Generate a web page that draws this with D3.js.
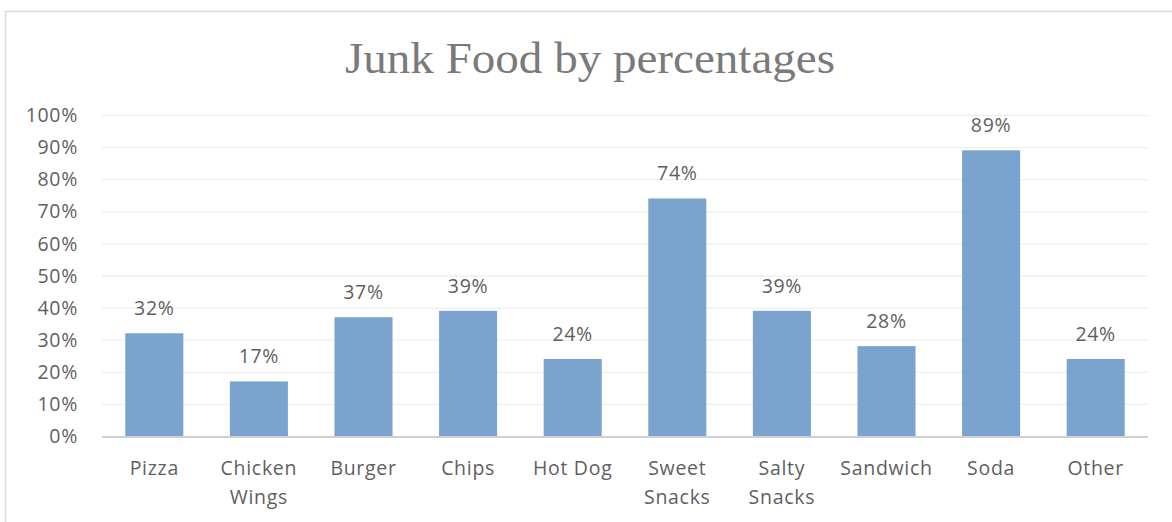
<!DOCTYPE html>
<html>
<head>
<meta charset="utf-8">
<script src="https://cdn.jsdelivr.net/npm/d3@7"></script>
<style>
  html, body { margin: 0; padding: 0; background: #fff; }
  svg { display: block; }
</style>
</head>
<body>
<svg id="chart" width="1172" height="522"></svg>
<script>
const titleText = "Junk Food by percentages";
const categories = [["Pizza"], ["Chicken", "Wings"], ["Burger"], ["Chips"], ["Hot Dog"], ["Sweet", "Snacks"], ["Salty", "Snacks"], ["Sandwich"], ["Soda"], ["Other"]];
const values = [32, 17, 37, 39, 24, 74, 39, 28, 89, 24];
const yTicks = [0, 10, 20, 30, 40, 50, 60, 70, 80, 90, 100];

const svg = d3.select("#chart");
const W = 1172, H = 522;
const plot = { left: 102, right: 1148, top: 115, bottom: 436 };
const FS = 19.5, LS = 0.7;

// outer border (chart area)
svg.append("path")
  .attr("d", `M5.5,${H} L5.5,11.5 L${W},11.5`)
  .attr("fill", "none").attr("stroke", "#d9d9d9").attr("stroke-width", 1.5);

const keys = categories.map(c => c.join(" "));
const x = d3.scaleBand().domain(keys).range([plot.left, plot.right]).paddingInner(0.445).paddingOuter(0.2225);
const y = d3.scaleLinear().domain([0, 100]).range([plot.bottom, plot.top]);

// title
svg.append("text")
  .attr("x", 590).attr("y", 73)
  .attr("text-anchor", "middle")
  .attr("font-family", "'Liberation Serif', serif")
  .attr("font-size", 45)
  .attr("fill", "#7a7a7a")
  .attr("textLength", 490).attr("lengthAdjust", "spacingAndGlyphs")
  .text(titleText);

// gridlines
const yAxis = d3.axisLeft(y).tickValues(yTicks).tickSize(-(plot.right - plot.left)).tickFormat(d => d + "%").tickPadding(24);
const gy = svg.append("g").attr("transform", `translate(${plot.left},0)`).call(yAxis);
gy.select(".domain").remove();
gy.selectAll(".tick line").attr("stroke", "#efefef").attr("stroke-width", 1.3);
gy.selectAll(".tick text")
  .attr("font-family", "'Open Sans', sans-serif")
  .attr("font-size", FS)
  .attr("fill", "#5f5f5f")
  .attr("letter-spacing", LS)
  .attr("x", 78 - plot.left)
  .attr("dy", "0.34em");

// bars
svg.append("g").selectAll("rect").data(values).join("rect")
  .attr("x", (d, i) => x(keys[i]))
  .attr("y", d => y(d))
  .attr("width", x.bandwidth())
  .attr("height", d => y(0) - y(d))
  .attr("fill", "#7ba3d0");

// baseline
svg.append("line")
  .attr("x1", plot.left).attr("x2", plot.right)
  .attr("y1", plot.bottom + 1).attr("y2", plot.bottom + 1)
  .attr("stroke", "#d0d0d0").attr("stroke-width", 2);

// data labels
svg.append("g").selectAll("text").data(values).join("text")
  .attr("x", (d, i) => x(keys[i]) + x.bandwidth() / 2)
  .attr("y", d => y(d) - 18)
  .attr("text-anchor", "middle")
  .attr("font-family", "'Open Sans', sans-serif")
  .attr("font-size", FS)
  .attr("letter-spacing", LS)
  .attr("fill", "#5f5f5f")
  .text(d => d + "%");

// category labels
const cl = svg.append("g").selectAll("text").data(categories).join("text")
  .attr("text-anchor", "middle")
  .attr("font-family", "'Open Sans', sans-serif")
  .attr("font-size", FS)
  .attr("letter-spacing", LS)
  .attr("fill", "#5f5f5f");
cl.each(function(lines, i) {
  const t = d3.select(this);
  lines.forEach((ln, j) => {
    t.append("tspan")
      .attr("x", x(keys[i]) + x.bandwidth() / 2)
      .attr("y", 475 + j * 29)
      .text(ln);
  });
});
</script>
</body>
</html>
